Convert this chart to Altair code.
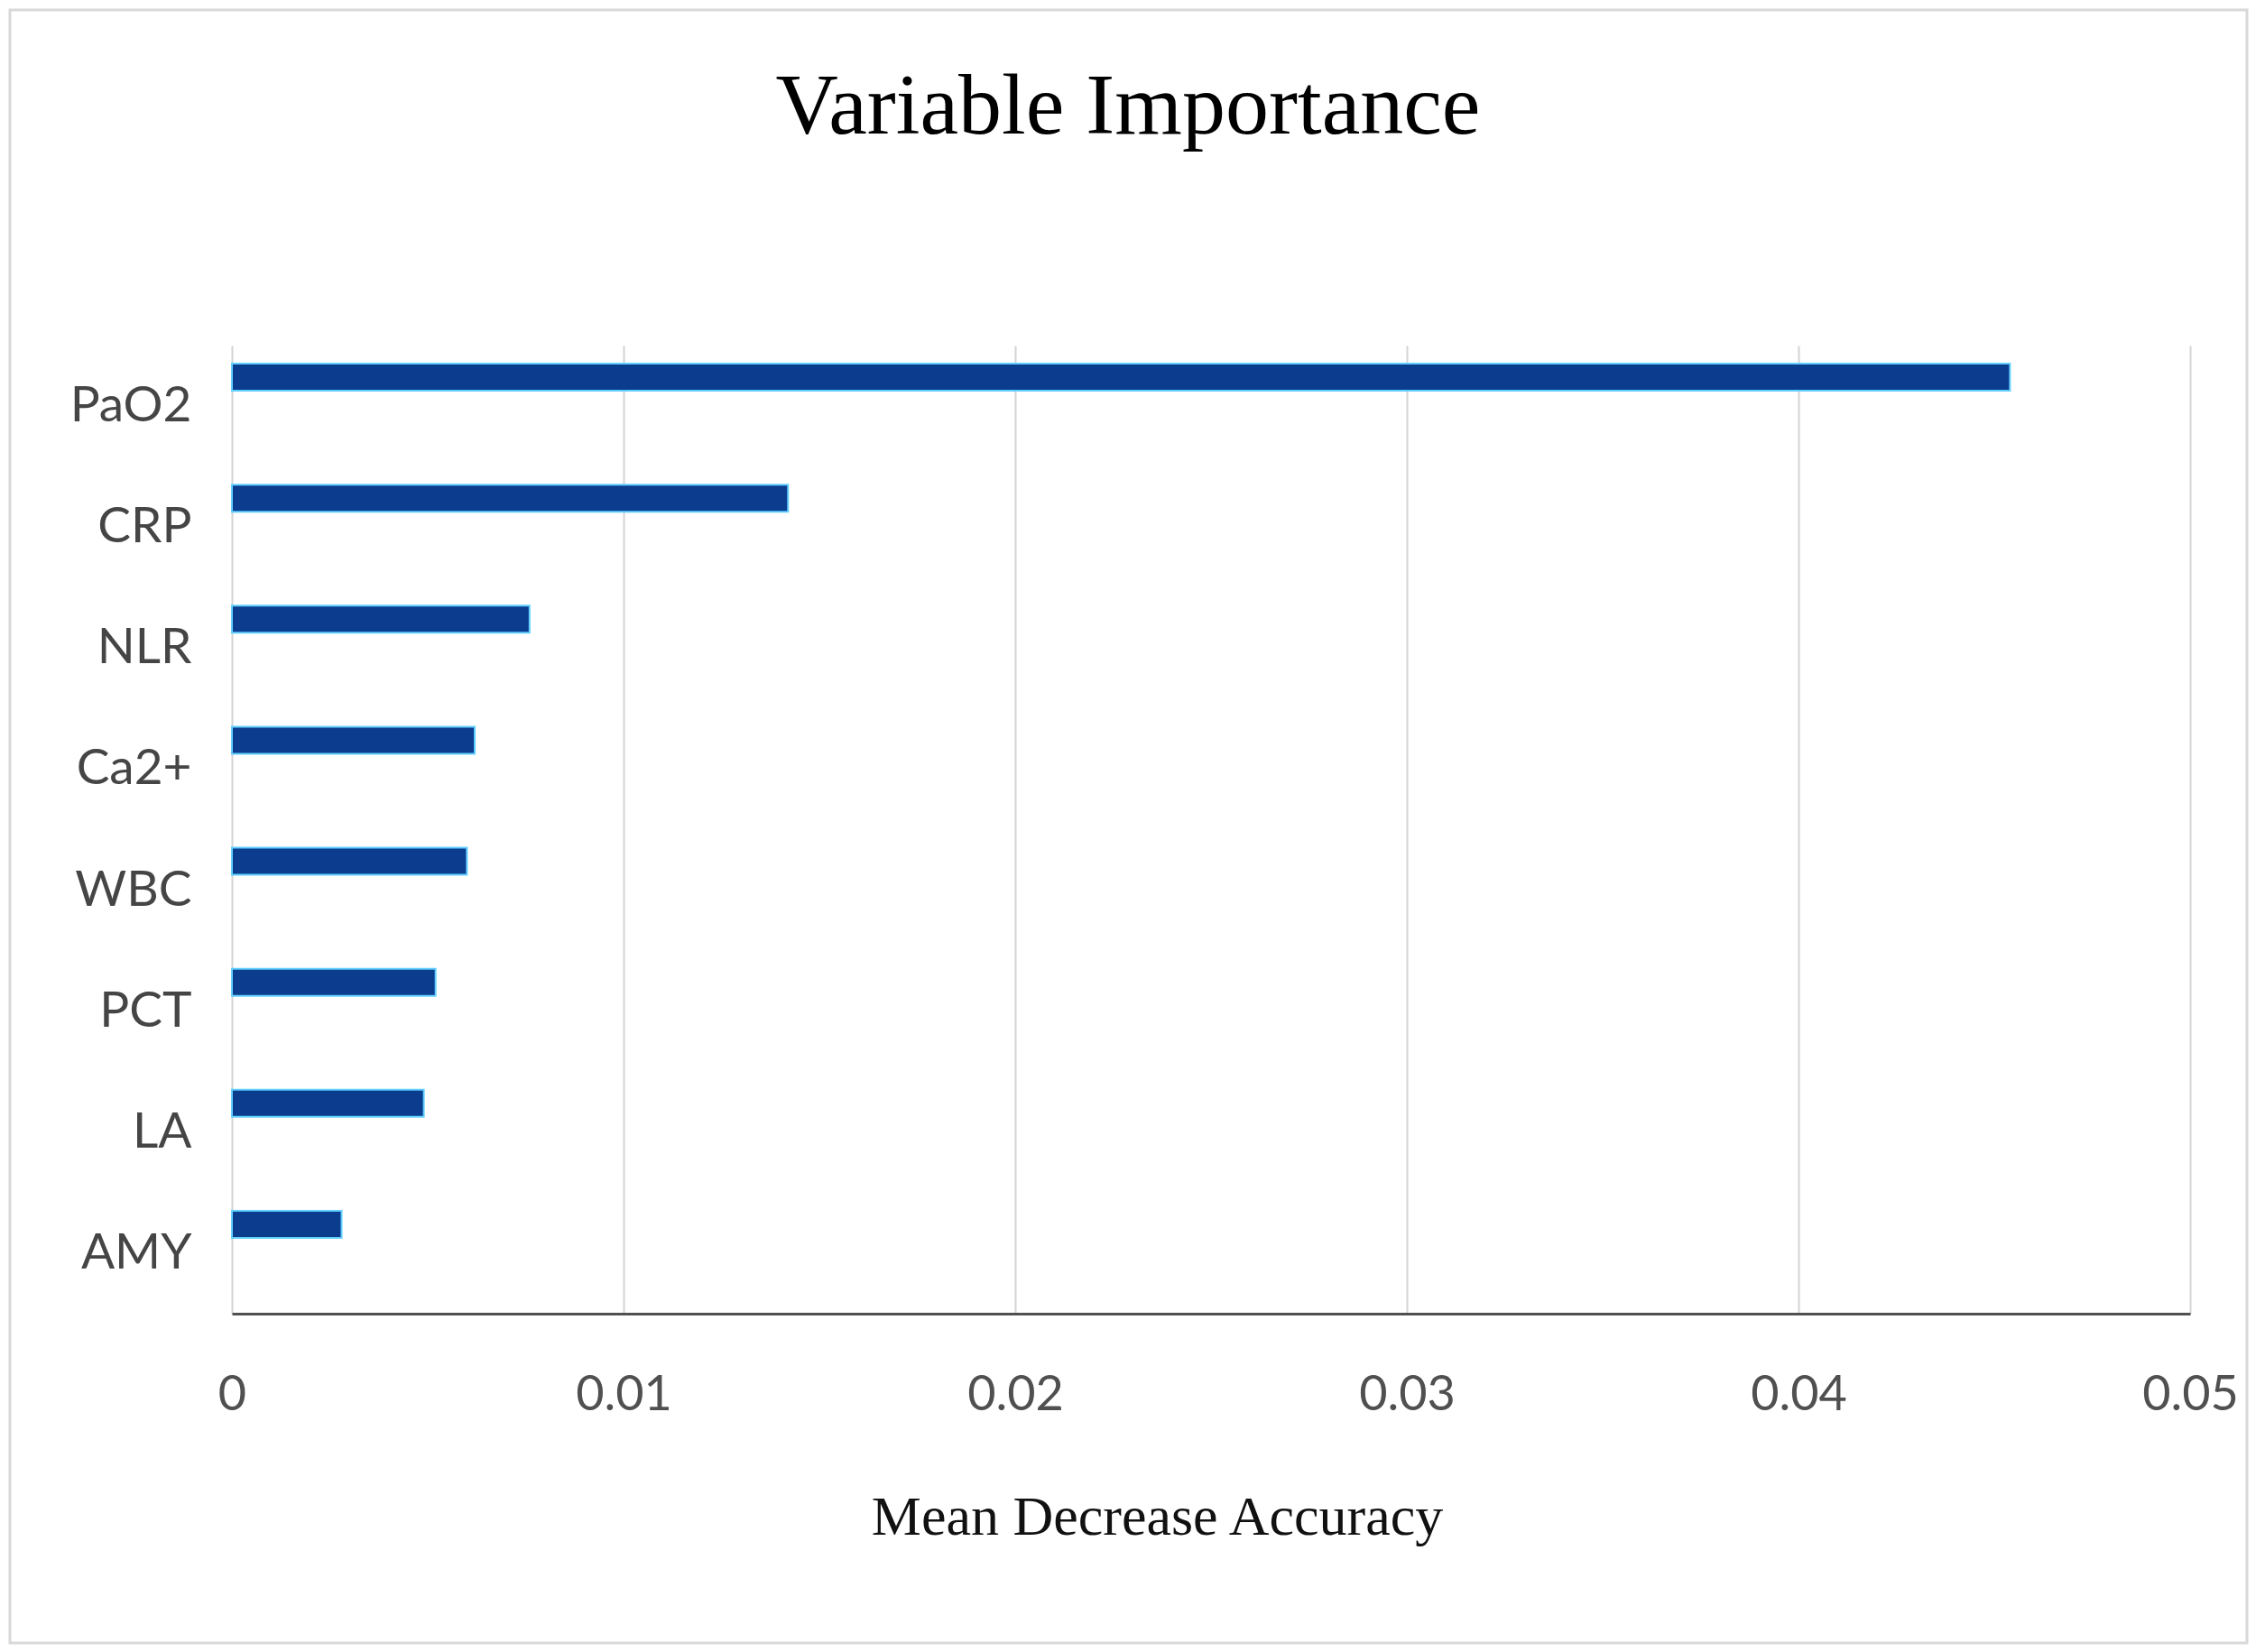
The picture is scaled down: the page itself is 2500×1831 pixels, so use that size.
import altair as alt
import pandas as pd

categories = ["PaO2", "CRP", "NLR", "Ca2+", "WBC", "PCT", "LA", "AMY"]
values = [0.0454, 0.0142, 0.0076, 0.0062, 0.0060, 0.0052, 0.0049, 0.0028]
tick_values = [0, 0.01, 0.02, 0.03, 0.04, 0.05]
chart_title = "Variable Importance"

df = pd.DataFrame({"variable": categories, "importance": values})

W, H = 2170, 1073

bars = alt.Chart(df).mark_bar(
    size=30, yOffset=-32, color="#0B3C8E", stroke="#62CFFF", strokeWidth=2
).encode(
    x=alt.X(
        "importance:Q",
        scale=alt.Scale(domain=[0, 0.05], nice=False),
        axis=alt.Axis(
            values=tick_values,
            labelExpr="datum.value == 0 ? '0' : format(datum.value, '.2f')",
            title="Mean Decrease Accuracy",
            titleFont="Liberation Serif",
            titleFontSize=62,
            titleFontWeight="normal",
            titleColor="#111111",
            titlePadding=78,
            titleX=1025,
            labelFont="Lato",
            labelFontSize=54,
            labelColor="#505050",
            labelPadding=63,
            ticks=False,
            grid=True,
            gridColor="#d4d4d4",
            gridWidth=2,
            domainColor="#505050",
            domainWidth=3,
            labelFlush=False,
        ),
    ),
    y=alt.Y(
        "variable:N",
        sort=categories,
        scale=alt.Scale(paddingInner=0, paddingOuter=0),
        axis=alt.Axis(
            title=None,
            labelFont="Lato",
            labelFontSize=55,
            labelColor="#454545",
            labelPadding=45,
            ticks=False,
            domain=False,
            grid=False,
        ),
    ),
)

one = pd.DataFrame({"t": [chart_title]})

frame = alt.Chart(one).mark_rect(
    fill=None, stroke="#d8d8d8", strokeWidth=3
).encode(
    x=alt.value(-246), x2=alt.value(2233), y=alt.value(-372), y2=alt.value(1438)
)

title = alt.Chart(one).mark_text(
    font="Liberation Serif", fontSize=96, color="black",
    align="center", baseline="alphabetic"
).encode(
    text="t:N", x=alt.value(993), y=alt.value(-235)
)

chart = alt.layer(frame, title, bars).properties(
    width=W,
    height=H,
    autosize=alt.AutoSizeParams(type="none"),
    padding={"left": 249, "top": 375, "right": 65, "bottom": 367},
    background="white",
).configure_view(stroke=None)

chart.save("out.html", embed_options={"renderer": "svg", "actions": False})
